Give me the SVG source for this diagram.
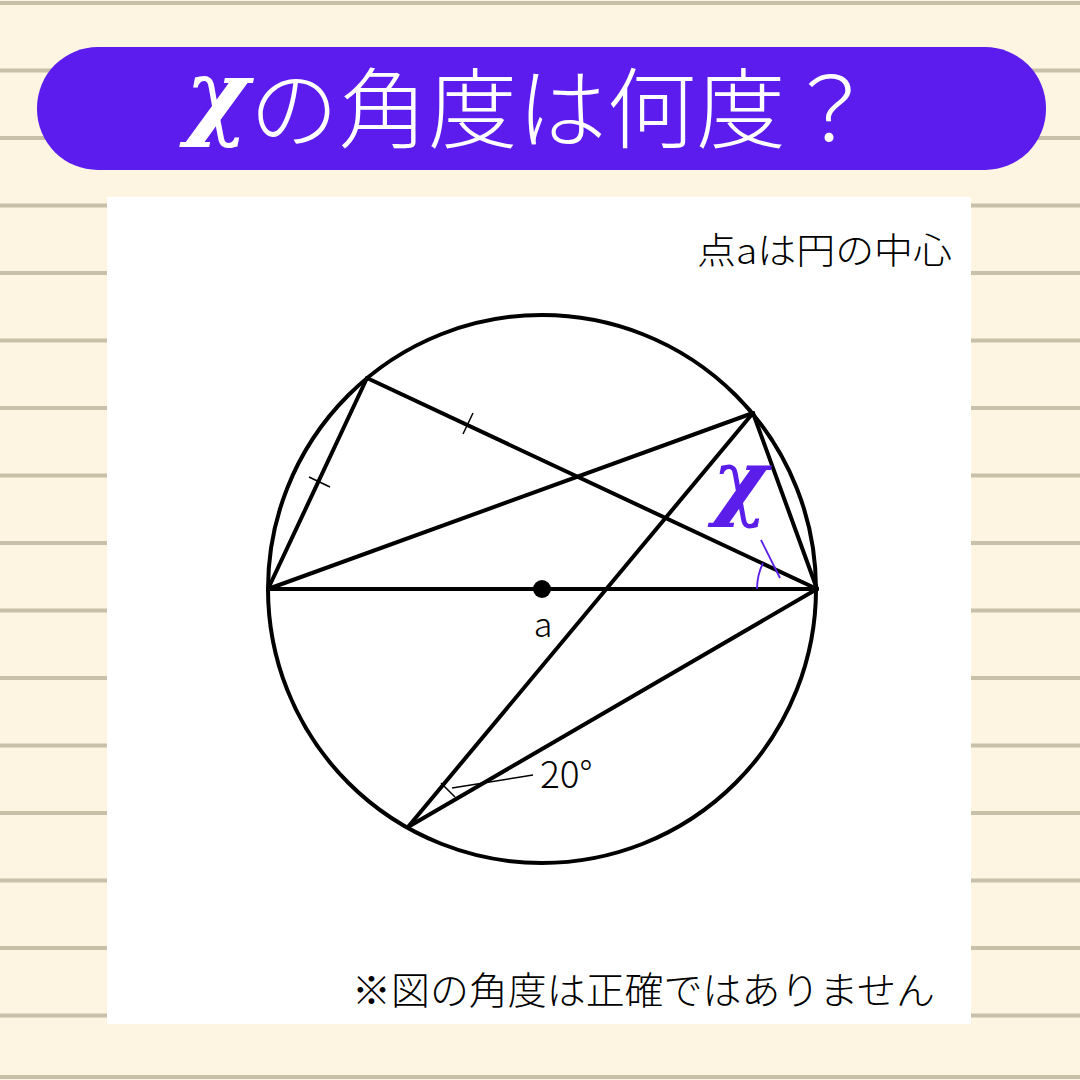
<svg xmlns="http://www.w3.org/2000/svg" width="1080" height="1080" viewBox="0 0 1080 1080">
<defs>
<style>
.stripe{stroke:#c9c0aa;stroke-width:4}
.geo{stroke:#000;stroke-width:4;fill:none;stroke-linecap:round;stroke-linejoin:round}
.thin{stroke:#000;stroke-width:1.5;fill:none}
.pur{stroke:#5b1de9;stroke-width:1.8;fill:none}
.jp{font-family:"Noto Sans CJK JP","Noto Sans",sans-serif;font-weight:300}
.chi{font-family:"DejaVu Serif","Liberation Serif",serif;font-style:italic;font-weight:bold}
</style>
</defs>
<rect width="1080" height="1080" fill="#fdf5e1"/>
<g id="stripes">
<line class="stripe" x1="0" y1="3" x2="1080" y2="3"/>
<line class="stripe" x1="0" y1="70.5" x2="1080" y2="70.5"/>
<line class="stripe" x1="0" y1="138" x2="1080" y2="138"/>
<line class="stripe" x1="0" y1="205.5" x2="1080" y2="205.5"/>
<line class="stripe" x1="0" y1="273" x2="1080" y2="273"/>
<line class="stripe" x1="0" y1="340.5" x2="1080" y2="340.5"/>
<line class="stripe" x1="0" y1="408" x2="1080" y2="408"/>
<line class="stripe" x1="0" y1="475.5" x2="1080" y2="475.5"/>
<line class="stripe" x1="0" y1="543" x2="1080" y2="543"/>
<line class="stripe" x1="0" y1="610.5" x2="1080" y2="610.5"/>
<line class="stripe" x1="0" y1="678" x2="1080" y2="678"/>
<line class="stripe" x1="0" y1="745.5" x2="1080" y2="745.5"/>
<line class="stripe" x1="0" y1="813" x2="1080" y2="813"/>
<line class="stripe" x1="0" y1="880.5" x2="1080" y2="880.5"/>
<line class="stripe" x1="0" y1="948" x2="1080" y2="948"/>
<line class="stripe" x1="0" y1="1015.5" x2="1080" y2="1015.5"/>
<line class="stripe" x1="0" y1="1077" x2="1080" y2="1077"/>
</g>
<g id="title">
<rect x="37" y="47" width="1009" height="123" rx="61" fill="#5b1ced"/>
<text x="530" y="141" text-anchor="middle" fill="#fff" font-size="88" class="jp" font-weight="400" textLength="690" lengthAdjust="spacingAndGlyphs"><tspan class="chi" font-size="96" dy="-14">χ</tspan><tspan dy="14">の角度は何度？</tspan></text>
</g>
<rect id="panel" x="107" y="197" width="864" height="827" fill="#fff"/>
<g id="circle"><circle class="geo" cx="542" cy="589" r="274"/></g>
<g id="connectors">
<line class="geo" x1="268" y1="589" x2="817" y2="589"/>
<line class="geo" x1="268" y1="589" x2="367" y2="378"/>
<line class="geo" x1="367" y1="378" x2="817" y2="589"/>
<line class="geo" x1="268" y1="589" x2="753" y2="413"/>
<line class="geo" x1="753" y1="413" x2="817" y2="589"/>
<line class="geo" x1="753" y1="413" x2="408" y2="827"/>
<line class="geo" x1="408" y1="827" x2="817" y2="589"/>
<line class="thin" x1="309" y1="477" x2="330" y2="487"/>
<line class="thin" x1="473" y1="413" x2="463" y2="434"/>
<line class="thin" x1="441" y1="783" x2="455" y2="797"/>
<line class="thin" x1="452" y1="788" x2="533" y2="775"/>
<path class="pur" d="M757,589 A60,60 0 0 1 763,563"/>
<line class="pur" x1="761" y1="540" x2="780" y2="578"/>
</g>
<g id="center">
<circle cx="542" cy="589" r="9" fill="#000"/>
<text x="543" y="637" text-anchor="middle" font-size="34" class="jp">a</text>
</g>
<g id="labels">
<text x="740" y="509" text-anchor="middle" fill="#5b1de9" font-size="84" class="chi">χ</text>
<text x="540" y="788" font-size="37" class="jp">20°</text>
<text x="952" y="264" text-anchor="end" font-size="36" class="jp" textLength="255" lengthAdjust="spacingAndGlyphs">点aは円の中心</text>
<text x="935" y="1004" text-anchor="end" font-size="38" class="jp" textLength="583" lengthAdjust="spacingAndGlyphs">※図の角度は正確ではありません</text>
</g>
</svg>
